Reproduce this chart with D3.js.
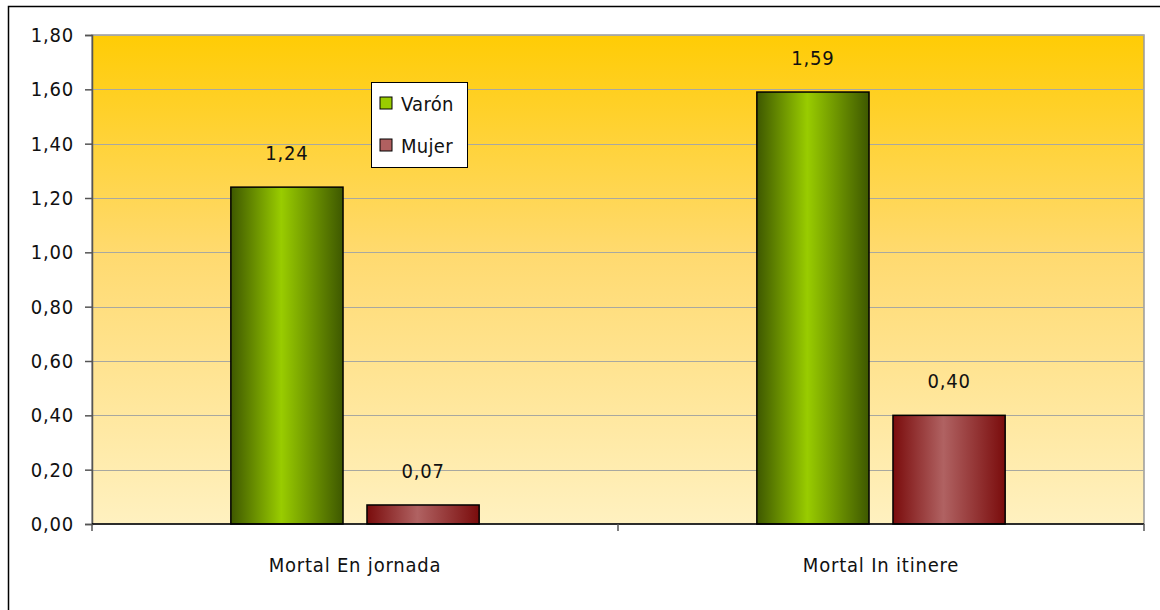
<!DOCTYPE html>
<html>
<head>
<meta charset="utf-8">
<script src="https://cdn.jsdelivr.net/npm/d3@7"></script>
<style>
	body { margin: 0; background: #fff; }
	svg text { font-family: "DejaVu Sans Condensed", "DejaVu Sans", sans-serif; font-stretch: condensed; fill: #111; letter-spacing: 0.8px; }
</style>
</head>
<body>
<svg id="chart" width="1160" height="610"></svg>
<script>
const categories = ["Mortal En jornada", "Mortal In itinere"];
const seriesNames = ["Varón", "Mujer"];
const varonValues = [1.24, 1.59];
const mujerValues = [0.07, 0.40];
const yTicks = [0, 0.2, 0.4, 0.6, 0.8, 1.0, 1.2, 1.4, 1.6, 1.8];

const svg = d3.select("#chart");
const defs = svg.append("defs");

const plot = {left: 92, top: 35, right: 1144, bottom: 524};
const fontSize = 20;

// outer frame, runs off the picture on the right and bottom
svg.append("rect")
	.attr("x", 8.5).attr("y", 6.5)
	.attr("width", 1160).attr("height", 620)
	.attr("fill", "#fff")
	.attr("stroke", "#000").attr("stroke-width", 1.5);

// background gradient
const bg = defs.append("linearGradient").attr("id", "bg")
	.attr("x1", 0).attr("y1", 0).attr("x2", 0).attr("y2", 1);
bg.append("stop").attr("offset", "0%").attr("stop-color", "#FFCC05");
bg.append("stop").attr("offset", "45%").attr("stop-color", "#FFDA70");
bg.append("stop").attr("offset", "100%").attr("stop-color", "#FFF1C0");

function barGradient(id, edge, mid) {
	const g = defs.append("linearGradient").attr("id", id)
		.attr("x1", 0).attr("y1", 0).attr("x2", 1).attr("y2", 0);
	g.append("stop").attr("offset", "0%").attr("stop-color", edge);
	g.append("stop").attr("offset", "45%").attr("stop-color", mid);
	g.append("stop").attr("offset", "100%").attr("stop-color", edge);
}
barGradient("gVaron", "#3E5800", "#99CC00");
barGradient("gMujer", "#7A0C0C", "#B06262");

const x = d3.scaleBand()
	.domain(categories)
	.range([plot.left, plot.right]);

const xInner = d3.scaleBand()
	.domain(seriesNames)
	.range([0, x.bandwidth()])
	.paddingInner(0.176)
	.paddingOuter(1.02);

const y = d3.scaleLinear()
	.domain([0, 1.8])
	.range([plot.bottom, plot.top]);

const fmt = v => d3.format(".2f")(v).replace(".", ",");

svg.append("rect")
	.attr("x", plot.left).attr("y", plot.top)
	.attr("width", plot.right - plot.left)
	.attr("height", plot.bottom - plot.top)
	.attr("fill", "url(#bg)")
	.attr("stroke", "#9a9a9a").attr("stroke-width", 1.5);

// gridlines
svg.append("g")
	.selectAll("line")
	.data(yTicks.slice(1))
	.join("line")
	.attr("x1", plot.left).attr("x2", plot.right)
	.attr("y1", d => Math.round(y(d)) + 0.5)
	.attr("y2", d => Math.round(y(d)) + 0.5)
	.attr("stroke", "#a8a8a0");

// y axis
const yAxis = svg.append("g")
	.attr("transform", "translate(" + plot.left + ",0)")
	.call(d3.axisLeft(y).tickValues(yTicks).tickFormat(fmt).tickSize(7).tickPadding(11));
yAxis.select(".domain").attr("stroke", "#555").attr("stroke-width", 1.5);
yAxis.selectAll(".tick line").attr("stroke", "#555").attr("stroke-width", 1.5);
yAxis.selectAll("text").attr("font-size", fontSize).attr("fill", "#111");

// bars
const rows = [];
categories.forEach((c, i) => {
	rows.push({cat: c, series: "Varón", value: varonValues[i], fill: "url(#gVaron)"});
	rows.push({cat: c, series: "Mujer", value: mujerValues[i], fill: "url(#gMujer)"});
});

svg.append("g")
	.selectAll("rect")
	.data(rows)
	.join("rect")
	.attr("x", d => x(d.cat) + xInner(d.series))
	.attr("y", d => y(d.value))
	.attr("width", xInner.bandwidth())
	.attr("height", d => plot.bottom - y(d.value))
	.attr("fill", d => d.fill)
	.attr("stroke", "#000").attr("stroke-width", 1.5);

svg.append("g")
	.selectAll("text")
	.data(rows)
	.join("text")
	.attr("x", d => x(d.cat) + xInner(d.series) + xInner.bandwidth() / 2)
	.attr("y", d => y(d.value) - 27)
	.attr("text-anchor", "middle")
	.attr("font-size", fontSize)
	.text(d => fmt(d.value));

// x axis
svg.append("line")
	.attr("x1", plot.left).attr("x2", plot.right)
	.attr("y1", plot.bottom).attr("y2", plot.bottom)
	.attr("stroke", "#000").attr("stroke-width", 1.5);
svg.append("g")
	.selectAll("line")
	.data([plot.left, x(categories[1]), plot.right])
	.join("line")
	.attr("x1", d => d).attr("x2", d => d)
	.attr("y1", plot.bottom).attr("y2", plot.bottom + 7)
	.attr("stroke", "#555").attr("stroke-width", 1.5);
svg.append("g")
	.selectAll("text")
	.data(categories)
	.join("text")
	.attr("x", d => x(d) + x.bandwidth() / 2)
	.attr("y", 572)
	.attr("text-anchor", "middle")
	.attr("font-size", fontSize)
	.text(d => d);

// legend
const legend = svg.append("g").attr("transform", "translate(371,82)");
legend.append("rect")
	.attr("x", 0.5).attr("y", 0.5)
	.attr("width", 96).attr("height", 85)
	.attr("fill", "#fff").attr("stroke", "#000");
const legendFills = ["#99CC00", "#B06060"];
const items = legend.selectAll("g.item")
	.data(seriesNames)
	.join("g")
	.classed("item", true)
	.attr("transform", (d, i) => "translate(9," + (15 + i * 42) + ")");
items.append("rect")
	.attr("width", 12).attr("height", 12)
	.attr("fill", (d, i) => legendFills[i])
	.attr("stroke", "#000");
items.append("text")
	.attr("x", 21).attr("y", 14)
	.attr("font-size", fontSize)
	.style("letter-spacing", "0.3px")
	.text(d => d);
</script>
</body>
</html>
